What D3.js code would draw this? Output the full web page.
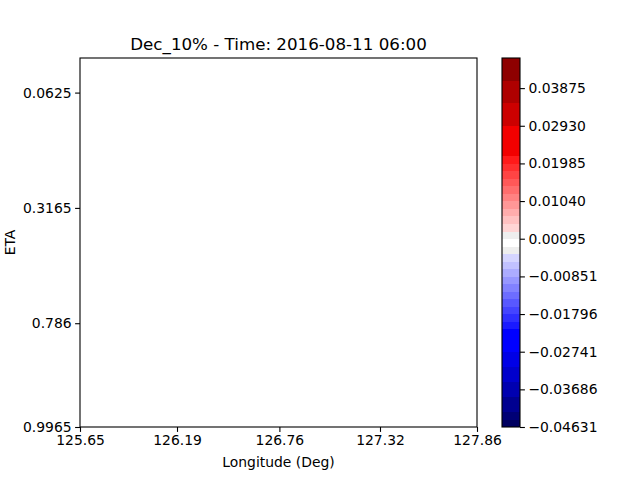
<!DOCTYPE html>
<html>
<head>
<meta charset="utf-8">
<script src="https://cdn.jsdelivr.net/npm/d3@7"></script>
<style>
  html, body { margin: 0; padding: 0; background: #fff; }
  svg { display: block; }
  text { font-family: "DejaVu Sans", sans-serif; fill: #000; }
</style>
</head>
<body>
<svg id="chart" width="640" height="480"></svg>
<script>
// ---------------- data ----------------
const title = "Dec_10% - Time: 2016-08-11 06:00";
const xLabel = "Longitude (Deg)";
const yLabel = "ETA";
const lonDomain = [125.65, 127.86];
const lonTicks = [125.65, 126.19, 126.76, 127.32, 127.86];
const etaIndexDomain = [0, 32];          // model level index (bottom to top)
const etaTickIndex = [0, 9, 19, 29];
const etaTickLabels = ["0.9965", "0.786", "0.3165", "0.0625"];
const cbDomain = [-0.04631, 0.04631];
const cbLevelCount = 50;                 // contour levels -> 49 bands
const cbTicks = [-0.04631, -0.03686, -0.02741, -0.01796, -0.00851,
                  0.00095, 0.01040, 0.01985, 0.02930, 0.03875];

// ---------------- layout ----------------
const svg = d3.select("#chart");
const M = { left: 80, right: 477, top: 58, bottom: 427 };
const CB = { left: 502, right: 520 };
const tickLen = 4.9;
const fs = 13.9;

const x = d3.scaleLinear().domain(lonDomain).range([M.left, M.right]);
const y = d3.scaleLinear().domain(etaIndexDomain).range([M.bottom, M.top]);
const cb = d3.scaleLinear().domain(cbDomain).range([M.bottom, M.top]);

// levels of the filled contour colour bar
const levels = d3.range(cbLevelCount).map(j =>
  cbDomain[0] + j * (cbDomain[1] - cbDomain[0]) / (cbLevelCount - 1));
const bands = d3.range(cbLevelCount - 1).map(j => ({ lo: levels[j], hi: levels[j + 1], j }));

// colour map (seismic-like, with plateaus at the dark ends as in the reference)
const nB = cbLevelCount - 1;
const blueLight = d3.interpolateRgb("#ffffff", "#0000ff");
const redLight = d3.interpolateRgb("#ffffff", "#ff0000");
function bandColor(j) {
  const k = nB - j; // unit counted from top (1..49)
  if (k <= 3) return "#8e0000";
  if (k <= 6) return "#ae0000";
  if (k <= 9) return "#cc0000";
  if (k <= 13) return "#f20000";
  if (k <= 23) { const t = 1 - (k - 0.5) / nB; return redLight((t - 0.5) / 0.25); }
  if (k === 24 || k === 26) return "#eeeeee";
  if (k === 25) return "#ffffff";
  if (k <= 36) { const t = 1 - (k - 0.5) / nB; return blueLight((0.5 - t) / 0.25); }
  if (k <= 39) return "#0000ff";
  if (k <= 41) return "#0000e6";
  if (k <= 43) return "#0000cc";
  if (k <= 45) return "#0000b0";
  if (k <= 47) return "#000090";
  if (k <= 48) return "#000075";
  return "#000060";
}

// ---------------- title ----------------
svg.append("text")
  .attr("x", (M.left + M.right) / 2).attr("y", 50)
  .attr("text-anchor", "middle").style("font-size", "16.7px")
  .text(title);

// ---------------- axes ----------------
const xAxis = d3.axisBottom(x).tickValues(lonTicks).tickFormat(d3.format(".2f"))
  .tickSizeInner(tickLen).tickSizeOuter(0).tickPadding(3.5);
const gx = svg.append("g").attr("transform", `translate(0,${M.bottom})`).call(xAxis);

const yAxis = d3.axisLeft(y).tickValues(etaTickIndex)
  .tickFormat((d, i) => etaTickLabels[i])
  .tickSizeInner(tickLen).tickSizeOuter(0).tickPadding(3.5);
const gy = svg.append("g").attr("transform", `translate(${M.left},0)`).call(yAxis);

[gx, gy].forEach(g => {
  g.select(".domain").remove();
  g.selectAll(".tick line").attr("stroke", "#000").attr("stroke-width", 1.1);
  g.selectAll(".tick text").style("font-size", fs + "px").style("font-family", "DejaVu Sans");
});

// frame
svg.append("rect")
  .attr("x", M.left).attr("y", M.top)
  .attr("width", M.right - M.left).attr("height", M.bottom - M.top)
  .attr("fill", "none").attr("stroke", "#000").attr("stroke-width", 1.1);

// axis labels
svg.append("text")
  .attr("x", (M.left + M.right) / 2).attr("y", 467)
  .attr("text-anchor", "middle").style("font-size", fs + "px")
  .text(xLabel);
svg.append("text")
  .attr("transform", `translate(15,${(M.top + M.bottom) / 2}) rotate(-90)`)
  .attr("text-anchor", "middle").style("font-size", fs + "px")
  .text(yLabel);

// ---------------- colour bar ----------------
svg.append("g").selectAll("rect").data(bands).join("rect")
  .attr("x", CB.left).attr("width", CB.right - CB.left)
  .attr("y", d => cb(d.hi)).attr("height", d => cb(d.lo) - cb(d.hi) + 0.3)
  .attr("fill", d => bandColor(d.j))
  .attr("shape-rendering", "crispEdges");

svg.append("rect")
  .attr("x", CB.left).attr("y", M.top)
  .attr("width", CB.right - CB.left).attr("height", M.bottom - M.top)
  .attr("fill", "none").attr("stroke", "#000").attr("stroke-width", 1.1);

const cbAxis = d3.axisRight(cb).tickValues(cbTicks)
  .tickFormat(d => d3.format(".5f")(d).replace("-", "\u2212"))
  .tickSizeInner(tickLen).tickSizeOuter(0).tickPadding(3.5);
const gcb = svg.append("g").attr("transform", `translate(${CB.right},0)`).call(cbAxis);
gcb.select(".domain").remove();
gcb.selectAll(".tick line").attr("stroke", "#000").attr("stroke-width", 1.1);
gcb.selectAll(".tick text").style("font-size", fs + "px").style("font-family", "DejaVu Sans");
</script>
</body>
</html>
